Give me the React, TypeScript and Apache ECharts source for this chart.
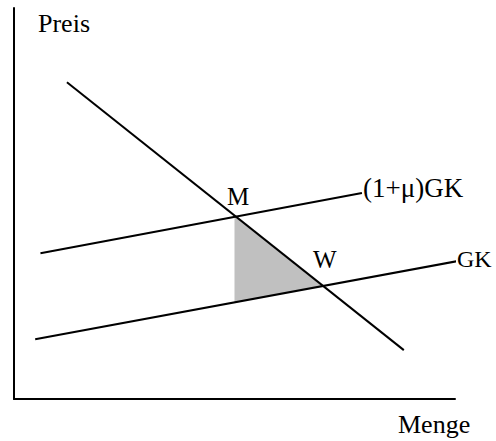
import React, { useEffect, useRef } from "react";
import * as echarts from "echarts";

// Demand curve (Nachfrage), cost line GK and marked-up cost line (1+μ)GK
const demandX = [12, 88.4];
const demandY = [81, 12.5];
const markupX = [6, 78.9];
const markupY = [37.3, 52.7];
const costX = [4.8, 100.7];
const costY = [15.3, 35.3];
// Welfare-loss triangle between M, W and the cost line below M
const triangleX = [50, 70, 50];
const triangleY = [46.8, 29, 24.7];

const pairs = (xs: number[], ys: number[]) => xs.map((x, i) => [x, ys[i]]);

const FONT = "'Liberation Serif', 'Times New Roman', serif";

const App: React.FC = () => {
  const ref = useRef<HTMLDivElement>(null);

  useEffect(() => {
    document.body.style.margin = "0";
    if (!ref.current) return;
    const chart = echarts.init(ref.current, undefined, { renderer: "svg" });
    const lineStyle = { color: "#000", width: 2 };
    const text = (t: string, x: number, y: number, size: number) => ({
      type: "text",
      x,
      y,
      style: {
        text: t,
        fill: "#000",
        font: `${size}px ${FONT}`,
        align: "left",
        verticalAlign: "middle",
      },
    });
    chart.setOption({
      animation: false,
      grid: { left: 14, right: 41, top: 8, bottom: 42 },
      xAxis: {
        type: "value",
        min: 0,
        max: 100,
        axisLine: { show: true, lineStyle },
        axisTick: { show: false },
        axisLabel: { show: false },
        splitLine: { show: false },
      },
      yAxis: {
        type: "value",
        min: 0,
        max: 100,
        axisLine: { show: true, lineStyle },
        axisTick: { show: false },
        axisLabel: { show: false },
        splitLine: { show: false },
      },
      series: [
        {
          type: "custom",
          data: [0],
          renderItem: (_params: any, api: any) => ({
            type: "polygon",
            shape: { points: pairs(triangleX, triangleY).map((p) => api.coord(p)) },
            style: { fill: "#c0c0c0", stroke: "none" },
          }),
          z: 1,
        },
        {
          type: "line",
          data: pairs(demandX, demandY),
          symbol: "none",
          lineStyle,
          clip: false,
          z: 2,
        },
        {
          type: "line",
          data: pairs(markupX, markupY),
          symbol: "none",
          lineStyle,
          clip: false,
          z: 2,
        },
        {
          type: "line",
          data: pairs(costX, costY),
          symbol: "none",
          lineStyle,
          clip: false,
          z: 2,
        },
      ],
      graphic: [
        text("Preis", 38, 23, 26),
        text("Menge", 398, 424, 26),
        text("M", 227, 196.5, 25),
        text("W", 313, 259.5, 25),
        text("(1+μ)GK", 363, 188, 27),
        text("GK", 457, 259, 24),
      ],
    });
    return () => chart.dispose();
  }, []);

  return <div ref={ref} style={{ width: 496, height: 441 }} />;
};

export default App;
